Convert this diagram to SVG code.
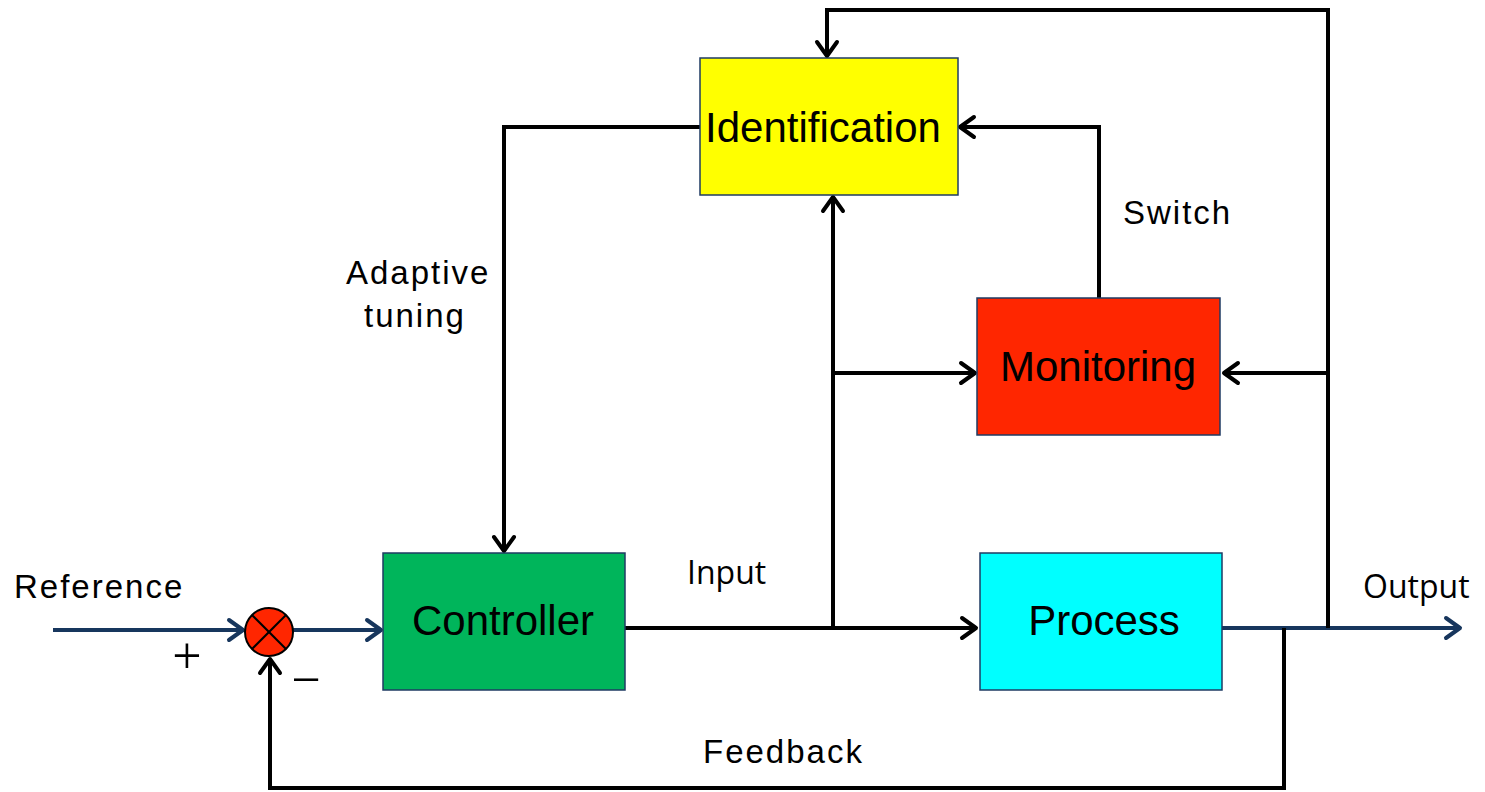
<svg xmlns="http://www.w3.org/2000/svg" width="1485" height="792" viewBox="0 0 1485 792">
  <style>
    .box { stroke: #1f3b63; stroke-width: 1.5; }
    .wire { fill: none; stroke: #000; stroke-width: 4; stroke-linejoin: miter; }
    .navy { fill: none; stroke: #17365d; stroke-width: 4; }
    .title { font-family: "Liberation Sans", Arial, sans-serif; font-size: 42px; fill: #000; text-anchor: middle; }
    .label { font-family: "Liberation Sans", Arial, sans-serif; font-size: 33px; letter-spacing: 2px; fill: #000; }
    .label2 { font-family: "Open Sans", "Liberation Sans", sans-serif; font-size: 32px; fill: #000; }
    .sign { font-family: "Liberation Serif", "Times New Roman", serif; font-size: 52px; fill: #000; text-anchor: middle; }
  </style>
  <defs>
    <marker id="arrow" markerUnits="userSpaceOnUse" markerWidth="40" markerHeight="40" refX="0" refY="0" orient="auto" overflow="visible">
      <path d="M-14,-10 L0,0 L-14,10" fill="none" stroke="#000" stroke-width="4" stroke-linecap="round" stroke-linejoin="round"/>
    </marker>
    <marker id="arrowNavy" markerUnits="userSpaceOnUse" markerWidth="40" markerHeight="40" refX="0" refY="0" orient="auto" overflow="visible">
      <path d="M-14,-10 L0,0 L-14,10" fill="none" stroke="#17365d" stroke-width="4" stroke-linecap="round" stroke-linejoin="round"/>
    </marker>
  </defs>

  <rect width="1485" height="792" fill="#fff"/>

  <!-- connectors -->
  <g id="connectors">
    <!-- reference into summing junction, then on to controller -->
    <line class="navy" x1="53" y1="630" x2="243" y2="630" marker-end="url(#arrowNavy)"/>
    <line class="navy" x1="293" y1="630" x2="381" y2="630" marker-end="url(#arrowNavy)"/>
    <!-- controller output to process -->
    <line class="wire" x1="625" y1="628" x2="976" y2="628" marker-end="url(#arrow)"/>
    <!-- input tap up to identification -->
    <line class="wire" x1="833" y1="628" x2="833" y2="197" marker-end="url(#arrow)"/>
    <!-- input tap to monitoring -->
    <line class="wire" x1="831" y1="373" x2="975" y2="373" marker-end="url(#arrow)"/>
    <!-- output line -->
    <line class="navy" x1="1222" y1="628" x2="1460" y2="628" marker-end="url(#arrowNavy)"/>
    <!-- output tap: over the top into identification -->
    <polyline class="wire" points="1328,628 1328,10 827,10 827,56" marker-end="url(#arrow)"/>
    <!-- output tap to monitoring -->
    <line class="wire" x1="1330" y1="373" x2="1224" y2="373" marker-end="url(#arrow)"/>
    <!-- switch: monitoring to identification -->
    <polyline class="wire" points="1099,298 1099,127 960,127" marker-end="url(#arrow)"/>
    <!-- adaptive tuning: identification to controller -->
    <polyline class="wire" points="700,127 504,127 504,551" marker-end="url(#arrow)"/>
    <!-- feedback -->
    <polyline class="wire" points="1284,628 1284,788 270,788 270,659" marker-end="url(#arrow)"/>
  </g>

  <!-- nodes -->
  <g id="identification">
    <rect class="box" x="700" y="58" width="258" height="137" fill="#ffff00"/>
    <text class="title" x="823" y="142">Identification</text>
  </g>
  <g id="monitoring">
    <rect class="box" x="977" y="298" width="243" height="137" fill="#ff2600"/>
    <text class="title" x="1098" y="381">Monitoring</text>
  </g>
  <g id="controller">
    <rect class="box" x="383" y="553" width="242" height="137" fill="#00b55b"/>
    <text class="title" x="503" y="635">Controller</text>
  </g>
  <g id="process">
    <rect class="box" x="980" y="553" width="242" height="137" fill="#00ffff"/>
    <text class="title" x="1104" y="635">Process</text>
  </g>
  <g id="sum">
    <circle cx="269" cy="632" r="24" fill="#ff2600" stroke="#000" stroke-width="2"/>
    <line x1="252" y1="615" x2="286" y2="649" stroke="#000" stroke-width="2"/>
    <line x1="286" y1="615" x2="252" y2="649" stroke="#000" stroke-width="2"/>
  </g>

  <!-- labels -->
  <g id="labels">
    <text class="label" x="14" y="598">Reference</text>
    <text class="label2" x="1363" y="598">Output</text>
    <text class="label2" x="687" y="584">Input</text>
    <text class="label" x="703" y="763">Feedback</text>
    <text class="label" x="1123" y="224">Switch</text>
    <text class="label" x="346" y="284">Adaptive</text>
    <text class="label" x="364" y="327">tuning</text>
    <text class="sign" x="187" y="673">+</text>
    <text class="sign" x="306" y="697">−</text>
  </g>
</svg>
